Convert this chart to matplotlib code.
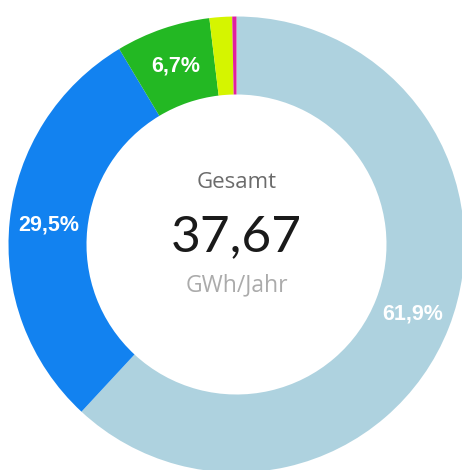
import matplotlib.pyplot as plt

# share of yearly energy (percent), clockwise from 12 o'clock
shares = [61.9, 29.5, 6.7, 1.6, 0.3]
colors = ["#aed2df", "#1282f0", "#23b823", "#d5f500", "#e0209f"]
total_label = "37,67"
unit_label = "GWh/Jahr"
title_label = "Gesamt"

W, H = 462, 470
fig = plt.figure(figsize=(W / 100, H / 100), dpi=100)
ax = fig.add_axes([0, 0, 1, 1])

cx, cy = 236.5, H - 244.5
r_out, r_in = 228, 150


def fmt(p):
    if p < 5:
        return ""
    return ("%.1f%%" % p).replace(".", ",")


wedges, texts, autotexts = ax.pie(
    shares, colors=colors, startangle=90, counterclock=False,
    radius=r_out, center=(cx, cy),
    wedgeprops=dict(width=r_out - r_in, linewidth=0),
    autopct=fmt, pctdistance=(r_out + r_in) / 2 / r_out,
)
for t in autotexts:
    t.set_color("white")
    t.set_fontsize(15.5)
    t.set_fontweight("bold")
    t.set_family("Liberation Sans")

ax.text(cx, H - 183, title_label, ha="center", va="center",
        fontsize=16, color="#6b6b6b", family="Open Sans")
ax.text(cx, H - 237, total_label, ha="center", va="center",
        fontsize=37, color="#1a1a1a", family="Lato")
ax.text(cx, H - 285, unit_label, ha="center", va="center",
        fontsize=16.5, color="#ababab", family="Open Sans")

ax.set_xlim(0, W)
ax.set_ylim(0, H)
ax.set_aspect("equal")
ax.axis("off")

fig.savefig("out.png", dpi=100)
